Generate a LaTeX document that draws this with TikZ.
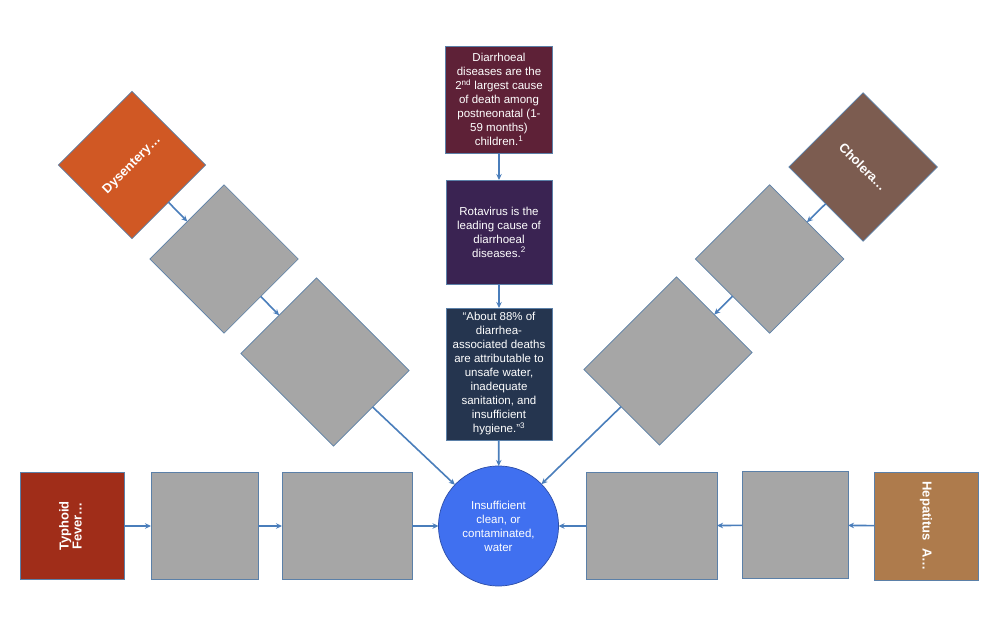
\documentclass[tikz,border=0pt]{standalone}
\usepackage{fontspec}
\setmainfont{Liberation Sans}
\usetikzlibrary{arrows.meta}
\definecolor{edgec}{HTML}{5B80A8}
\definecolor{arrc}{HTML}{4A7EBB}
\definecolor{grayc}{HTML}{A6A6A6}
\definecolor{boxa}{HTML}{5E2137}
\definecolor{boxb}{HTML}{3A2352}
\definecolor{boxc}{HTML}{25354F}
\definecolor{dysc}{HTML}{D05824}
\definecolor{cholc}{HTML}{7C5C50}
\definecolor{typhc}{HTML}{A02D19}
\definecolor{hepc}{HTML}{AE7B4C}
\definecolor{circc}{HTML}{4070F0}
\begin{document}
\begin{tikzpicture}[x=1pt,y=-1pt,
  box/.style={draw=edgec, line width=0.7pt, inner sep=0pt, outer sep=0pt,
    text=white, font=\fontsize{11.5}{14}\selectfont, align=center},
  grayb/.style={box, fill=grayc},
  bigl/.style={font=\bfseries\fontsize{13}{15}\selectfont},
  arr/.style={draw=arrc, line width=1.6pt, -{Stealth[length=6pt,width=5.5pt]}},
]
\useasboundingbox[fill=white] (0,0) rectangle (1000,620);

% central column
\node[box, fill=boxa, minimum width=107pt, minimum height=107pt] (b1) at (499,99.5)
  {Diarrhoeal\\diseases are the\\2\textsuperscript{nd} largest cause\\of death among\\postneonatal (1-\\59 months)\\children.\textsuperscript{1}};
\node[box, fill=boxb, minimum width=106pt, minimum height=104pt] (b2) at (499,232)
  {Rotavirus is the\\leading cause of\\diarrhoeal\\diseases.\textsuperscript{2}};
\node[box, fill=boxc, minimum width=106pt, minimum height=132pt] (b3) at (499,374)
  {“About 88\% of\\diarrhea-\\associated deaths\\are attributable to\\unsafe water,\\inadequate\\sanitation, and\\insufficient\\hygiene.”\textsuperscript{3}};
\node[box, circle, fill=circc, draw=circc!70!black, minimum size=120pt] (w) at (498.5,526)
  {Insufficient\\clean, or\\contaminated,\\water};

% left diagonal
\node[box, bigl, fill=dysc, minimum width=104pt, minimum height=104pt, rotate=45] (dys) at (132,165) {Dysentery…};
\node[grayb, minimum width=105pt, minimum height=105pt, rotate=45] (l1) at (224,259) {};
\node[grayb, minimum width=131pt, minimum height=107pt, rotate=-45] (l2) at (325,362) {};

% right diagonal
\node[box, bigl, fill=cholc, minimum width=105pt, minimum height=105pt, rotate=-45] (cho) at (863,167) {Cholera…};
\node[grayb, minimum width=105pt, minimum height=105pt, rotate=45] (r1) at (769.5,259) {};
\node[grayb, minimum width=131pt, minimum height=107pt, rotate=45] (r2) at (668,361) {};

% bottom row
\node[box, bigl, fill=typhc, minimum width=104pt, minimum height=107pt] (typ) at (72,526)
  {\rotatebox{90}{\begin{tabular}{@{}c@{}}Typhoid\\[-2pt]Fever…\end{tabular}}};
\node[grayb, minimum width=107pt, minimum height=107pt] (bl1) at (204.5,526) {};
\node[grayb, minimum width=130pt, minimum height=107pt] (bl2) at (347,526) {};
\node[grayb, minimum width=131pt, minimum height=107pt] (br1) at (651.5,526) {};
\node[grayb, minimum width=106pt, minimum height=107pt] (br2) at (795,525) {};
\node[box, bigl, fill=hepc, minimum width=104pt, minimum height=108pt] (hep) at (926,526)
  {\rotatebox{-90}{Hepatitus~~A…}};

% connectors
\draw[arr] (b1) -- (b2);
\draw[arr] (b2) -- (b3);
\draw[arr] (b3) -- (w);
\draw[arr] (dys) -- (l1);
\draw[arr] (l1) -- (l2);
\draw[arr] (l2) -- (w);
\draw[arr] (cho) -- (r1);
\draw[arr] (r1) -- (r2);
\draw[arr] (r2) -- (w);
\draw[arr] (typ) -- (bl1);
\draw[arr] (bl1) -- (bl2);
\draw[arr] (bl2) -- (w);
\draw[arr] (hep) -- (br2);
\draw[arr] (br2) -- (br1);
\draw[arr] (br1) -- (w);
\end{tikzpicture}
\end{document}
